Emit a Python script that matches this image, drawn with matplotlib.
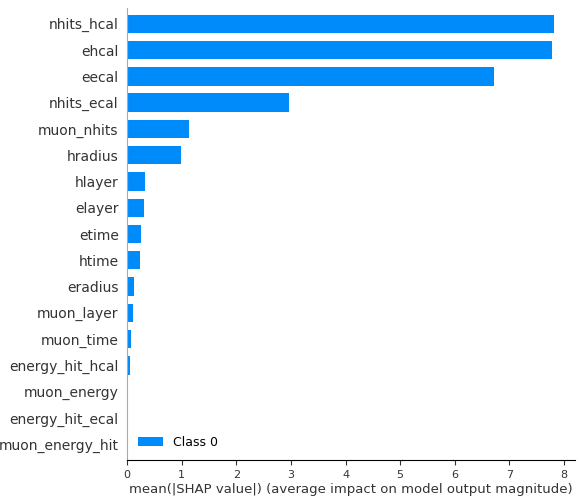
import matplotlib
matplotlib.use("Agg")
import matplotlib.pyplot as plt
import numpy as np

features = ["nhits_hcal", "ehcal", "eecal", "nhits_ecal", "muon_nhits", "hradius",
            "hlayer", "elayer", "etime", "htime", "eradius", "muon_layer", "muon_time",
            "energy_hit_hcal", "muon_energy", "energy_hit_ecal", "muon_energy_hit"]
values = [7.81, 7.78, 6.72, 2.97, 1.14, 0.99, 0.33, 0.31, 0.26, 0.24, 0.13, 0.11,
          0.07, 0.05, 0.012, 0.01, 0.006]

fig = plt.figure(figsize=(5.8, 4.99), dpi=100)
ax = fig.add_axes([127/580, 39/499, 448/580, 452/499])
y = np.arange(len(features))[::-1]
ax.barh(y, values, height=0.7, color="#008bfb", label="Class 0")
ax.set_yticks(y)
ax.set_yticklabels(features, fontsize=10, color="#333333")
ax.set_ylim(-0.6, len(features) - 0.4)
ax.set_xlim(0, 8.2)
ax.set_xticks(range(9))
ax.tick_params(axis="x", labelsize=8, color="#333333", labelcolor="#333333")
ax.tick_params(axis="y", length=0, pad=6)
ax.spines["top"].set_visible(False)
ax.spines["right"].set_visible(False)
ax.spines["left"].set_color("#aaaaaa")
ax.set_xlabel("mean(|SHAP value|) (average impact on model output magnitude)",
              fontsize=9.5, color="#333333", labelpad=2)
ax.legend(loc="lower left", frameon=False, fontsize=9)
fig.savefig("out.png", dpi=100)
